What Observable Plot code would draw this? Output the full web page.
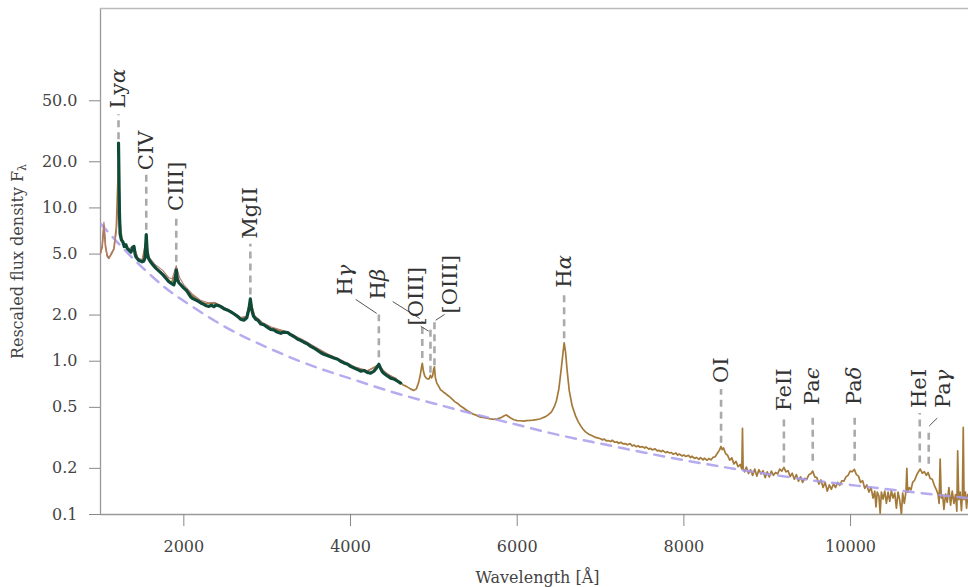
<!DOCTYPE html>
<html><head><meta charset="utf-8">
<script src="https://cdn.jsdelivr.net/npm/d3@7"></script>
<script src="https://cdn.jsdelivr.net/npm/@observablehq/plot@0.6"></script>
<style>html,body{margin:0;padding:0;background:#fff}</style>
</head><body><div id="chart"></div>
<script>
// ---------- data (wavelength Å, rescaled flux) ----------
const xTicks = [2000, 4000, 6000, 8000, 10000];
const yTicks = [0.1, 0.2, 0.5, 1, 2, 5, 10, 20, 50];

const brownSpectrum = [
[1000,5.1],[1020,5.6],[1041,7.7],[1060,5.6],[1080,4.9],[1101,4.7],[1130,5.0],[1161,5.4],[1190,7.5],[1216,20],[1235,8],[1260,6.0],[1300,5.7],[1340,5.3],[1400,5.5],[1450,4.6],[1500,4.5],[1549,6.2],[1580,4.6],[1650,4.1],[1750,3.7],[1850,3.25],[1909,3.8],[1950,3.2],[2050,2.85],[2150,2.55],[2250,2.38],[2370,2.4],[2450,2.27],[2550,2.13],[2680,1.9],[2750,1.95],[2798,2.5],[2850,1.95],[2950,1.75],[3050,1.64],[3200,1.56],[3300,1.48],[3450,1.33],[3600,1.2],[3750,1.09],[3900,1.0],[4050,0.91],[4200,0.86],[4340,0.95],[4400,0.85],[4500,0.79],[4600,0.73],
[4630,0.70],[4660,0.69],[4690,0.675],[4720,0.66],[4758,0.645],[4790,0.66],[4815,0.72],[4835,0.8],[4850,0.9],[4861,0.97],[4875,0.86],[4890,0.8],[4910,0.775],[4930,0.765],[4945,0.77],[4959,0.81],[4972,0.78],[4985,0.8],[4998,0.89],[5007,0.92],[5018,0.78],[5035,0.72],[5055,0.69],[5081,0.65],[5100,0.64],[5120,0.625],[5140,0.615],[5165,0.6],[5190,0.585],[5220,0.565],[5250,0.545],[5285,0.53],[5320,0.51],[5357,0.495],[5400,0.475],[5441,0.462],[5470,0.452],[5500,0.447],[5530,0.438],[5561,0.432],[5590,0.43],[5620,0.426],[5650,0.423],[5681,0.42],[5720,0.418],[5760,0.421],[5790,0.425],[5820,0.432],[5850,0.442],[5870,0.446],[5895,0.436],[5921,0.426],[5960,0.415],[6000,0.41],[6040,0.409],[6077,0.407],[6110,0.41],[6150,0.411],[6190,0.413],[6230,0.416],[6270,0.42],[6300,0.426],[6340,0.435],[6370,0.446],[6400,0.46],[6420,0.476],[6445,0.505],[6470,0.55],[6500,0.66],[6525,0.86],[6545,1.08],[6563,1.32],[6580,1.15],[6600,0.86],[6625,0.64],[6660,0.51],[6700,0.44],[6730,0.405],[6760,0.38],[6790,0.36],[6820,0.346],[6860,0.334],[6900,0.326],[6930,0.32],[6964,0.316],
[7000,0.312],[7020,0.307],[7045,0.31],[7070,0.302],[7090,0.304],[7120,0.299],[7140,0.305],[7170,0.296],[7200,0.298],[7215,0.291],[7245,0.296],[7270,0.289],[7300,0.29],[7320,0.285],[7355,0.29],[7380,0.28],[7400,0.284],[7430,0.277],[7455,0.281],[7470,0.275],[7505,0.277],[7530,0.271],[7545,0.276],[7580,0.267],[7600,0.27],[7620,0.264],[7655,0.268],[7680,0.26],[7700,0.262],[7730,0.257],[7745,0.262],[7780,0.253],[7800,0.257],[7830,0.252],[7850,0.254],[7870,0.247],[7905,0.252],[7925,0.244],[7945,0.248],[7980,0.241],[8000,0.245],[8020,0.239],[8055,0.243],[8080,0.235],[8095,0.24],[8130,0.232],[8150,0.236],[8180,0.229],[8200,0.235],[8230,0.227],[8245,0.233],[8280,0.226],[8300,0.232],[8325,0.227],[8350,0.236],[8375,0.238],[8400,0.25],[8425,0.262],[8446,0.278],[8460,0.265],[8475,0.272],[8500,0.25],[8525,0.243],[8550,0.226],[8575,0.234],[8600,0.214],[8625,0.222],[8650,0.205],[8675,0.212],[8695,0.198],[8703,0.365],[8711,0.2],[8730,0.19],[8750,0.204],[8775,0.185],[8800,0.196],[8825,0.18],[8850,0.198],[8875,0.178],[8900,0.196],[8925,0.184],[8950,0.193],[8975,0.174],[9000,0.19],[9025,0.176],[9050,0.192],[9075,0.18],[9100,0.188],[9125,0.184],[9150,0.198],[9175,0.192],[9200,0.203],[9225,0.19],[9250,0.193],[9275,0.177],[9300,0.186],[9325,0.17],[9350,0.182],[9375,0.165],[9400,0.176],[9425,0.162],[9450,0.172],[9475,0.17],[9500,0.182],[9525,0.185],[9546,0.192],[9570,0.176],[9595,0.174],[9620,0.158],[9645,0.168],[9670,0.15],[9695,0.162],[9720,0.142],[9745,0.156],[9770,0.146],[9795,0.158],[9820,0.15],[9845,0.162],[9870,0.155],[9895,0.166],[9920,0.165],[9945,0.176],[9970,0.18],[9995,0.192],[10020,0.19],[10045,0.197],[10070,0.182],[10095,0.178],[10120,0.162],[10145,0.166],[10170,0.148],[10195,0.156],[10220,0.14],[10245,0.15],[10270,0.128],[10290,0.142],[10305,0.112],[10320,0.14],[10340,0.132],[10355,0.102],[10370,0.14],[10390,0.126],[10410,0.142],[10430,0.118],[10450,0.14],[10470,0.122],[10490,0.143],[10510,0.128],[10530,0.138],[10550,0.11],[10570,0.14],[10590,0.124],[10610,0.1],[10625,0.138],[10645,0.118],[10665,0.142],[10675,0.2],[10685,0.14],[10705,0.15],[10725,0.145],[10745,0.162],[10770,0.168],[10795,0.182],[10815,0.19],[10836,0.198],[10860,0.186],[10885,0.19],[10910,0.18],[10930,0.188],[10955,0.172],[10980,0.17],[11005,0.155],[11030,0.145],[11050,0.135],[11062,0.118],[11075,0.23],[11088,0.128],[11105,0.134],[11120,0.108],[11140,0.136],[11160,0.12],[11180,0.15],[11200,0.115],[11220,0.142],[11240,0.118],[11260,0.135],[11275,0.105],[11285,0.26],[11298,0.125],[11315,0.14],[11330,0.106],[11342,0.135],[11352,0.37],[11362,0.125],[11378,0.14],[11392,0.11],[11405,0.135],[11415,0.12]
];

const greenSpectrum = [
[1216,26.5],[1221,17],[1227,9.5],[1235,6.8],[1250,6.2],[1269,6.0],[1285,5.6],[1305,5.75],[1320,5.45],[1341,5.3],[1365,5.15],[1388,5.55],[1402,5.6],[1415,5.0],[1424,4.8],[1445,4.65],[1460,4.55],[1480,4.5],[1500,4.45],[1520,4.5],[1535,4.75],[1549,6.7],[1560,5.2],[1575,4.7],[1600,4.45],[1630,4.25],[1664,4.05],[1700,3.88],[1748,3.67],[1790,3.45],[1820,3.3],[1850,3.22],[1880,3.15],[1897,3.4],[1909,3.95],[1920,3.45],[1940,3.25],[1964,3.15],[2000,3.0],[2036,2.88],[2084,2.62],[2108,2.56],[2150,2.5],[2204,2.4],[2240,2.35],[2270,2.3],[2300,2.28],[2330,2.32],[2360,2.27],[2390,2.33],[2420,2.3],[2444,2.27],[2480,2.2],[2520,2.16],[2564,2.1],[2600,2.04],[2640,1.97],[2683,1.88],[2720,1.85],[2755,1.92],[2782,2.2],[2798,2.55],[2812,2.2],[2835,1.97],[2863,1.88],[2890,1.85],[2923,1.75],[2960,1.73],[3000,1.67],[3043,1.61],[3080,1.6],[3120,1.55],[3163,1.52],[3200,1.55],[3247,1.54],[3280,1.49],[3320,1.45],[3367,1.39],[3400,1.37],[3440,1.33],[3480,1.3],[3523,1.25],[3560,1.22],[3600,1.18],[3640,1.14],[3679,1.11],[3720,1.09],[3760,1.07],[3800,1.05],[3846,1.03],[3880,1.0],[3920,0.975],[3966,0.955],[4000,0.925],[4050,0.9],[4100,0.875],[4122,0.86],[4160,0.87],[4200,0.845],[4242,0.835],[4280,0.86],[4310,0.9],[4340,0.955],[4360,0.9],[4380,0.855],[4398,0.835],[4430,0.81],[4460,0.79],[4482,0.775],[4520,0.765],[4540,0.755],[4566,0.74],[4600,0.72]
];

const compositeSpectrum = [
[1000,5.0],[1020,5.5],[1041,8.1],[1060,5.7],[1080,4.8],[1101,4.67],[1130,5.1],[1161,5.42],[1190,7.0],[1205,9.5],[1216,11.5],[1228,7.5],[1250,6.2],[1290,5.8],[1340,5.4],[1400,5.7],[1450,4.7],[1500,4.6],[1549,5.6],[1580,4.8],[1650,4.3],[1750,3.9],[1820,3.5],[1860,3.45],[1909,4.2],[1950,3.5],[2000,3.15],[2100,2.75],[2200,2.5],[2300,2.4],[2370,2.42],[2450,2.3],[2550,2.15],[2680,1.93],[2750,1.96],[2798,2.35],[2850,1.98],[2950,1.78],[3050,1.67],[3200,1.58],[3300,1.5],[3450,1.36],[3600,1.22],[3750,1.1],[3900,1.01],[4050,0.92],[4200,0.87],[4340,0.93],[4450,0.82],[4550,0.77]
];

const powerLaw = [
[1000,7.9],[1250,5.6],[1500,4.1],[1750,3.1],[2000,2.47],[2500,1.67],[3000,1.23],[3500,0.95],[4000,0.77],[4500,0.63],[5000,0.53],[5500,0.45],[6000,0.385],[6500,0.33],[7000,0.29],[7500,0.255],[8000,0.226],[8500,0.203],[9000,0.184],[9500,0.168],[10000,0.156],[10500,0.145],[11000,0.135],[11415,0.128]
];

// emission-line annotations
const lineNames  = ["Lyα","CIV","CIII]","MgII","Hγ","Hβ","[OIII]","[OIII]","Hα","OI","FeII","Paϵ","Paδ","HeI","Paγ"];
const lineWaves  = [1216,1549,1909,2798,4340,4861,4959,5007,6563,8446,9200,9546,10049,10830,10938];
const dashFrom   = [28.1,7.2,4.46,2.72,1.06,1.05,0.84,0.94,1.41,0.294,0.218,0.224,0.224,0.218,0.214];
const dashTo     = [40.8,16.6,9.0,5.84,2.02,1.82,1.61,1.82,2.85,0.658,0.426,0.46,0.46,0.46,0.367];
const labelWaves = [1216,1549,1909,2798,3942,4338,4794,5201,6563,8446,9200,9546,10049,10830,11113];
const labelFlux  = [44.6,17.6,9.56,6.29,2.68,2.53,1.71,2.05,3.02,0.72,0.474,0.518,0.518,0.495,0.495];
// connectors for displaced labels: [labelIndex, fromWave, fromFlux, toWave, toFlux]
const connectors = [
  [4, 4062, 2.53, 4314, 2.05],
  [5, 4506, 2.45, 4830, 1.90],
  [6, 4842, 1.69, 4938, 1.57],
  [7, 5129, 2.02, 5021, 1.85],
  [14, 11040, 0.426, 10944, 0.378]
];

const idx = lineNames.map((_, i) => i);
const serif = "DejaVu Serif";
const fmt = d3.format(".1f");

const chart = Plot.plot({
  width: 968,
  height: 587,
  marginLeft: 100,
  marginRight: 0,
  marginTop: 8,
  marginBottom: 73,
  style: {fontFamily: serif, fontSize: "16px", color: "#444", background: "#fff", overflow: "visible"},
  x: {domain: [1000, 11415]},
  y: {type: "log", domain: [0.1, 200]},
  marks: [
    Plot.ruleX([1000], {stroke: "#999", strokeWidth: 1.3}),
    Plot.ruleY([0.1], {stroke: "#999", strokeWidth: 1.3}),
    Plot.ruleY([200], {stroke: "#bbb", strokeWidth: 1.3}),
    Plot.axisX({ticks: xTicks, tickFormat: d => String(d), tickSize: 12, tickPadding: 14, stroke: "#888", fill: "#444", label: null, fontSize: 16}),
    Plot.axisY({ticks: yTicks, tickFormat: () => "", tickSize: 11, stroke: "#888", label: null}),
    Plot.text(yTicks, {frameAnchor: "left", y: d => d, text: d => fmt(d), dx: -23, textAnchor: "end", lineAnchor: "middle", fontSize: 16, fill: "#444"}),
    Plot.line(brownSpectrum, {x: d => d[0], y: d => d[1], stroke: "#a47a3a", strokeWidth: 1.7, strokeLinejoin: "round", clip: true}),
    Plot.line(powerLaw, {x: d => d[0], y: d => d[1], stroke: "#a99cec", strokeWidth: 2.5, strokeDasharray: "10,8", strokeOpacity: 0.85, curve: "natural", clip: true}),
    Plot.line(compositeSpectrum, {x: d => d[0], y: d => d[1], stroke: "#b57a72", strokeWidth: 1.1, clip: true}),
    Plot.line(greenSpectrum, {x: d => d[0], y: d => d[1], stroke: "#0f4a39", strokeWidth: 3.2, strokeLinejoin: "round", clip: true}),
    Plot.link(idx, {x1: i => lineWaves[i], x2: i => lineWaves[i], y1: i => dashFrom[i], y2: i => dashTo[i], stroke: "#aaa", strokeWidth: 2.6, strokeDasharray: "7,5"}),
    Plot.link(connectors, {x1: d => d[1], y1: d => d[2], x2: d => d[3], y2: d => d[4], stroke: "#555", strokeWidth: 1}),
    Plot.text(idx, {x: i => labelWaves[i], y: i => labelFlux[i], text: i => lineNames[i], rotate: -90, textAnchor: "start", lineAnchor: "middle", fontSize: 21, fill: "#333"}),
    Plot.text([0], {frameAnchor: "left", dx: -83, text: () => "Rescaled flux density Fλ", rotate: -90, textAnchor: "middle", lineAnchor: "middle", fontSize: 16, fill: "#444"}),
    Plot.text([0], {frameAnchor: "bottom", dx: 3, dy: 63, text: () => "Wavelength [Å]", textAnchor: "middle", lineAnchor: "middle", fontSize: 16, fill: "#444"})
  ]
});
document.getElementById("chart").append(chart);

// italic Greek letters (math style) and subscript lambda
const greek = /[αβγδϵ]/;
d3.select(chart).selectAll("text").each(function() {
  const t = this.textContent;
  const sel = d3.select(this);
  if (t === "Rescaled flux density Fλ") {
    sel.text(null);
    sel.append("tspan").text("Rescaled flux density F");
    sel.append("tspan").attr("dy", "0.3em").attr("font-size", "11px").text("λ");
  } else if (lineNames.includes(t) && greek.test(t)) {
    sel.text(null);
    for (const ch of t) {
      const s = sel.append("tspan").text(ch);
      if (greek.test(ch)) s.attr("font-style", "italic");
    }
  }
});
</script>
</body></html>
